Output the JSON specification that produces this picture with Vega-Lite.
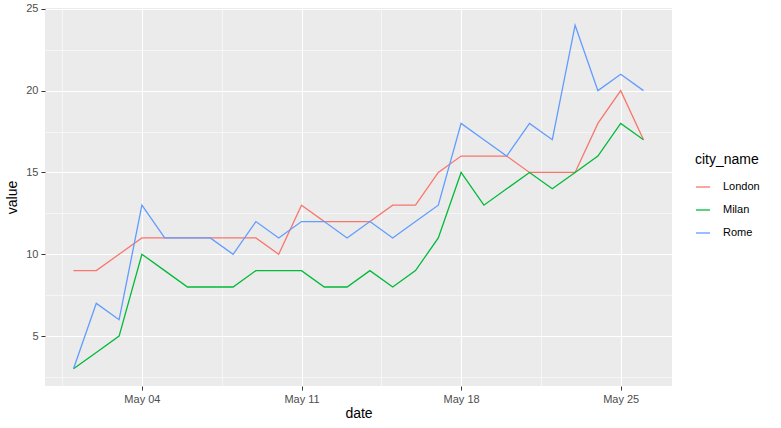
{
  "$schema": "https://vega.github.io/schema/vega-lite/v6.json",
  "width": 627,
  "height": 378,
  "autosize": {"type": "none"},
  "padding": {"left": 45, "top": 8, "right": 109, "bottom": 42},
  "background": "white",
  "config": {
    "view": {"fill": "#EBEBEB", "stroke": null},
    "font": "Liberation Sans"
  },
  "datasets": {
    "d": [
      {"date": "2020-05-01T00:00:00", "city_name": "London", "value": 9},
      {"date": "2020-05-02T00:00:00", "city_name": "London", "value": 9},
      {"date": "2020-05-03T00:00:00", "city_name": "London", "value": 10},
      {"date": "2020-05-04T00:00:00", "city_name": "London", "value": 11},
      {"date": "2020-05-05T00:00:00", "city_name": "London", "value": 11},
      {"date": "2020-05-06T00:00:00", "city_name": "London", "value": 11},
      {"date": "2020-05-07T00:00:00", "city_name": "London", "value": 11},
      {"date": "2020-05-08T00:00:00", "city_name": "London", "value": 11},
      {"date": "2020-05-09T00:00:00", "city_name": "London", "value": 11},
      {"date": "2020-05-10T00:00:00", "city_name": "London", "value": 10},
      {"date": "2020-05-11T00:00:00", "city_name": "London", "value": 13},
      {"date": "2020-05-12T00:00:00", "city_name": "London", "value": 12},
      {"date": "2020-05-13T00:00:00", "city_name": "London", "value": 12},
      {"date": "2020-05-14T00:00:00", "city_name": "London", "value": 12},
      {"date": "2020-05-15T00:00:00", "city_name": "London", "value": 13},
      {"date": "2020-05-16T00:00:00", "city_name": "London", "value": 13},
      {"date": "2020-05-17T00:00:00", "city_name": "London", "value": 15},
      {"date": "2020-05-18T00:00:00", "city_name": "London", "value": 16},
      {"date": "2020-05-19T00:00:00", "city_name": "London", "value": 16},
      {"date": "2020-05-20T00:00:00", "city_name": "London", "value": 16},
      {"date": "2020-05-21T00:00:00", "city_name": "London", "value": 15},
      {"date": "2020-05-22T00:00:00", "city_name": "London", "value": 15},
      {"date": "2020-05-23T00:00:00", "city_name": "London", "value": 15},
      {"date": "2020-05-24T00:00:00", "city_name": "London", "value": 18},
      {"date": "2020-05-25T00:00:00", "city_name": "London", "value": 20},
      {"date": "2020-05-26T00:00:00", "city_name": "London", "value": 17},
      {"date": "2020-05-01T00:00:00", "city_name": "Milan", "value": 3},
      {"date": "2020-05-02T00:00:00", "city_name": "Milan", "value": 4},
      {"date": "2020-05-03T00:00:00", "city_name": "Milan", "value": 5},
      {"date": "2020-05-04T00:00:00", "city_name": "Milan", "value": 10},
      {"date": "2020-05-05T00:00:00", "city_name": "Milan", "value": 9},
      {"date": "2020-05-06T00:00:00", "city_name": "Milan", "value": 8},
      {"date": "2020-05-07T00:00:00", "city_name": "Milan", "value": 8},
      {"date": "2020-05-08T00:00:00", "city_name": "Milan", "value": 8},
      {"date": "2020-05-09T00:00:00", "city_name": "Milan", "value": 9},
      {"date": "2020-05-10T00:00:00", "city_name": "Milan", "value": 9},
      {"date": "2020-05-11T00:00:00", "city_name": "Milan", "value": 9},
      {"date": "2020-05-12T00:00:00", "city_name": "Milan", "value": 8},
      {"date": "2020-05-13T00:00:00", "city_name": "Milan", "value": 8},
      {"date": "2020-05-14T00:00:00", "city_name": "Milan", "value": 9},
      {"date": "2020-05-15T00:00:00", "city_name": "Milan", "value": 8},
      {"date": "2020-05-16T00:00:00", "city_name": "Milan", "value": 9},
      {"date": "2020-05-17T00:00:00", "city_name": "Milan", "value": 11},
      {"date": "2020-05-18T00:00:00", "city_name": "Milan", "value": 15},
      {"date": "2020-05-19T00:00:00", "city_name": "Milan", "value": 13},
      {"date": "2020-05-20T00:00:00", "city_name": "Milan", "value": 14},
      {"date": "2020-05-21T00:00:00", "city_name": "Milan", "value": 15},
      {"date": "2020-05-22T00:00:00", "city_name": "Milan", "value": 14},
      {"date": "2020-05-23T00:00:00", "city_name": "Milan", "value": 15},
      {"date": "2020-05-24T00:00:00", "city_name": "Milan", "value": 16},
      {"date": "2020-05-25T00:00:00", "city_name": "Milan", "value": 18},
      {"date": "2020-05-26T00:00:00", "city_name": "Milan", "value": 17},
      {"date": "2020-05-01T00:00:00", "city_name": "Rome", "value": 3},
      {"date": "2020-05-02T00:00:00", "city_name": "Rome", "value": 7},
      {"date": "2020-05-03T00:00:00", "city_name": "Rome", "value": 6},
      {"date": "2020-05-04T00:00:00", "city_name": "Rome", "value": 13},
      {"date": "2020-05-05T00:00:00", "city_name": "Rome", "value": 11},
      {"date": "2020-05-06T00:00:00", "city_name": "Rome", "value": 11},
      {"date": "2020-05-07T00:00:00", "city_name": "Rome", "value": 11},
      {"date": "2020-05-08T00:00:00", "city_name": "Rome", "value": 10},
      {"date": "2020-05-09T00:00:00", "city_name": "Rome", "value": 12},
      {"date": "2020-05-10T00:00:00", "city_name": "Rome", "value": 11},
      {"date": "2020-05-11T00:00:00", "city_name": "Rome", "value": 12},
      {"date": "2020-05-12T00:00:00", "city_name": "Rome", "value": 12},
      {"date": "2020-05-13T00:00:00", "city_name": "Rome", "value": 11},
      {"date": "2020-05-14T00:00:00", "city_name": "Rome", "value": 12},
      {"date": "2020-05-15T00:00:00", "city_name": "Rome", "value": 11},
      {"date": "2020-05-16T00:00:00", "city_name": "Rome", "value": 12},
      {"date": "2020-05-17T00:00:00", "city_name": "Rome", "value": 13},
      {"date": "2020-05-18T00:00:00", "city_name": "Rome", "value": 18},
      {"date": "2020-05-19T00:00:00", "city_name": "Rome", "value": 17},
      {"date": "2020-05-20T00:00:00", "city_name": "Rome", "value": 16},
      {"date": "2020-05-21T00:00:00", "city_name": "Rome", "value": 18},
      {"date": "2020-05-22T00:00:00", "city_name": "Rome", "value": 17},
      {"date": "2020-05-23T00:00:00", "city_name": "Rome", "value": 24},
      {"date": "2020-05-24T00:00:00", "city_name": "Rome", "value": 20},
      {"date": "2020-05-25T00:00:00", "city_name": "Rome", "value": 21},
      {"date": "2020-05-26T00:00:00", "city_name": "Rome", "value": 20}
    ]
  },
  "data": {"name": "d"},
  "mark": {"type": "line", "strokeWidth": 1.3},
  "encoding": {
    "x": {
      "field": "date",
      "type": "temporal",
      "title": "date",
      "scale": {
        "domain": [
          {"year": 2020, "month": 4, "date": 29, "hours": 18},
          {"year": 2020, "month": 5, "date": 27, "hours": 6}
        ],
        "nice": false
      },
      "axis": {
        "values": [
          {"year": 2020, "month": 4, "date": 30, "hours": 12},
          {"year": 2020, "month": 5, "date": 4},
          {"year": 2020, "month": 5, "date": 7, "hours": 12},
          {"year": 2020, "month": 5, "date": 11},
          {"year": 2020, "month": 5, "date": 14, "hours": 12},
          {"year": 2020, "month": 5, "date": 18},
          {"year": 2020, "month": 5, "date": 21, "hours": 12},
          {"year": 2020, "month": 5, "date": 25}
        ],
        "labelExpr": "hours(datum.value) == 12 ? '' : timeFormat(datum.value, '%b %d')",
        "domain": false,
        "grid": true,
        "gridColor": "white",
        "gridWidth": {"condition": {"test": "hours(datum.value) == 12", "value": 0.55}, "value": 1.1},
        "tickColor": "#333333",
        "tickOpacity": {"condition": {"test": "hours(datum.value) == 12", "value": 0}, "value": 1},
        "tickSize": 4,
        "tickWidth": 1,
        "labelColor": "#4D4D4D",
        "labelFontSize": 11,
        "labelPadding": 3,
        "labelFlush": false,
        "labelOverlap": false,
        "titleFontSize": 14,
        "titleFontWeight": "normal",
        "titleColor": "black",
        "titlePadding": 2
      }
    },
    "y": {
      "field": "value",
      "type": "quantitative",
      "title": "value",
      "scale": {"domain": [1.95, 25.05], "nice": false, "zero": false},
      "axis": {
        "values": [2.5, 5, 7.5, 10, 12.5, 15, 17.5, 20, 22.5, 25],
        "labelExpr": "datum.value % 5 != 0 ? '' : datum.label",
        "domain": false,
        "grid": true,
        "gridColor": "white",
        "gridWidth": {"condition": {"test": "datum.value % 5 != 0", "value": 0.55}, "value": 1.1},
        "tickColor": "#333333",
        "tickOpacity": {"condition": {"test": "datum.value % 5 != 0", "value": 0}, "value": 1},
        "tickSize": 4,
        "tickWidth": 1,
        "labelColor": "#4D4D4D",
        "labelFontSize": 11,
        "labelPadding": 3,
        "labelFlush": false,
        "labelOverlap": false,
        "titleFontSize": 14,
        "titleFontWeight": "normal",
        "titleColor": "black",
        "titlePadding": 6
      }
    },
    "color": {
      "field": "city_name",
      "type": "nominal",
      "title": "city_name",
      "scale": {"domain": ["London", "Milan", "Rome"], "range": ["#F8766D", "#00BA38", "#619CFF"]},
      "legend": {
        "orient": "none",
        "legendX": 650,
        "legendY": 145,
        "symbolType": "stroke",
        "symbolStrokeWidth": 1.3,
        "symbolSize": 200,
        "titleFontSize": 14,
        "titleFontWeight": "normal",
        "titleColor": "black",
        "titlePadding": 12,
        "labelFontSize": 11,
        "labelColor": "black",
        "rowPadding": 10,
        "labelOffset": 12
      }
    }
  }
}
